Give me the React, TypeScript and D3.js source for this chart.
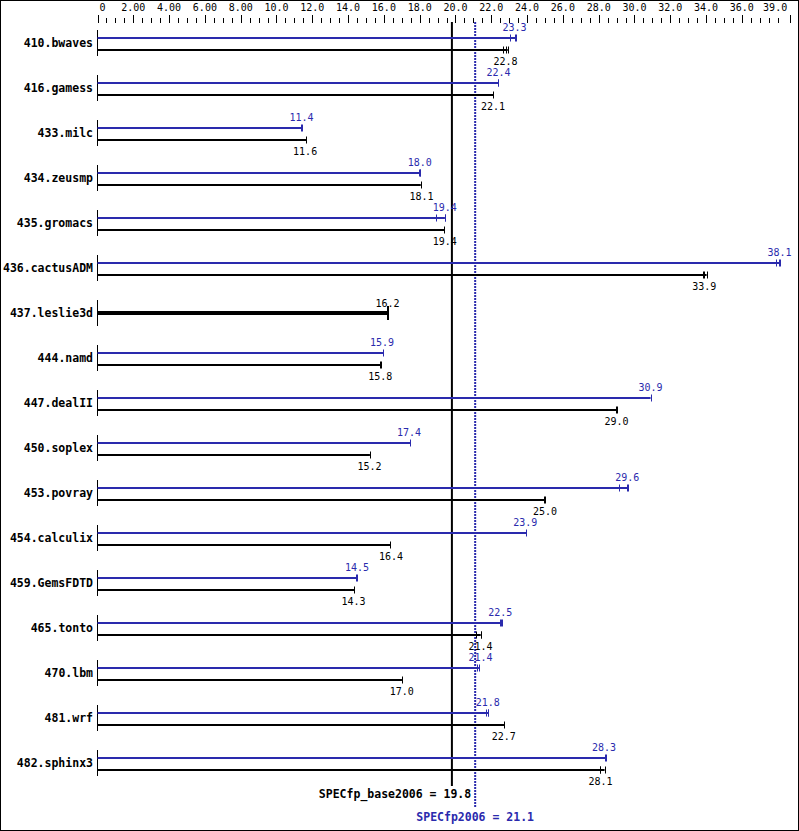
import React from "react";
import * as d3 from "d3";

const benchmarks = [
  "410.bwaves", "416.gamess", "433.milc", "434.zeusmp", "435.gromacs", "436.cactusADM",
  "437.leslie3d", "444.namd", "447.dealII", "450.soplex", "453.povray", "454.calculix",
  "459.GemsFDTD", "465.tonto", "470.lbm", "481.wrf", "482.sphinx3",
];
const peakValues: (number | null)[] = [23.3, 22.4, 11.4, 18.0, 19.4, 38.1, null, 15.9, 30.9, 17.4, 29.6, 23.9, 14.5, 22.5, 21.4, 21.8, 28.3];
const baseValues = [22.8, 22.1, 11.6, 18.1, 19.4, 33.9, 16.2, 15.8, 29.0, 15.2, 25.0, 16.4, 14.3, 21.4, 17.0, 22.7, 28.1];
const peakRuns: number[][] = [
  [23.04, 23.3, 23.38], [22.37, 22.4], [11.38, 11.42], [17.94, 18.0, 18.03], [18.91, 19.41, 19.41],
  [37.9, 38.1, 38.12], [], [15.97], [30.9], [17.46], [29.15, 29.6, 29.64], [23.94], [14.45, 14.48],
  [22.5, 22.55, 22.58], [21.22, 21.31], [21.69, 21.8, 21.82], [28.33, 28.39],
];
const baseRuns: number[][] = [
  [22.67, 22.8, 22.92], [22.1], [11.65], [18.06], [19.38], [33.84, 33.9, 34.03], [16.2, 16.23],
  [15.8, 15.82], [28.97, 29.0], [15.22], [24.96, 25.0], [16.36], [14.33], [21.16, 21.4, 21.41],
  [17.01], [22.71], [28.09, 28.1, 28.33],
];
const specBase = 19.8;
const specPeak = 21.1;
const axisMax = 38.7;
const majorTicks = [0, 2, 4, 6, 8, 10, 12, 14, 16, 18, 20, 22, 24, 26, 28, 30, 32, 34, 36];
const majorLabels = ["0", "2.00", "4.00", "6.00", "8.00", "10.0", "12.0", "14.0", "16.0", "18.0", "20.0", "22.0", "24.0", "26.0", "28.0", "30.0", "32.0", "34.0", "36.0"];
const lastTickLabel = "39.0";

const BLUE = "#2a2aad";
const FONT = "'DejaVu Sans Mono', monospace";

export default function App() {
  const W = 799, H = 831;
  const x = d3.scaleLinear().domain([0, axisMax]).range([97.5, 790.2]);
  const rowY = (i: number) => 43 + 45 * i;
  const minorTicks = d3.range(0.5, 38.01, 0.5).filter((v) => Math.abs(v % 2) > 1e-6 || v === 38);

  return (
    <svg width={W} height={H} style={{ position: "absolute", left: 0, top: 0, background: "#fff" }}>
      <rect x={0.5} y={0.5} width={W - 1} height={H - 1} fill="#fff" stroke="#000" />
      {/* top axis */}
      {majorTicks.map((t, i) => (
        <g key={"mt" + i}>
          <line x1={Math.round(x(t)) + 0.5} x2={Math.round(x(t)) + 0.5} y1={15} y2={23} stroke="#000" />
          <text x={i === 0 ? x(t) + 2 : x(t)} y={11} fontSize={10} fontFamily={FONT} textAnchor={i === 0 ? "start" : "middle"} fill="#000">
            {majorLabels[i]}
          </text>
        </g>
      ))}
      {minorTicks.map((t, i) => (
        <line key={"mn" + i} x1={Math.round(x(t)) + 0.5} x2={Math.round(x(t)) + 0.5} y1={18} y2={23} stroke="#000" />
      ))}
      <line x1={Math.round(x(axisMax)) + 0.5} x2={Math.round(x(axisMax)) + 0.5} y1={15} y2={23} stroke="#000" />
      <text x={x(axisMax) - 3} y={11} fontSize={10} fontFamily={FONT} textAnchor="end">{lastTickLabel}</text>

      {/* reference lines */}
      <line x1={x(specBase)} x2={x(specBase)} y1={22} y2={786} stroke="#000" strokeWidth={2} />
      <line x1={x(specPeak)} x2={x(specPeak)} y1={22} y2={807} stroke={BLUE} strokeWidth={2} strokeDasharray="2,1" />

      {benchmarks.map((name, i) => {
        const c = rowY(i);
        const pv = peakValues[i];
        const single = pv === null;
        const by = single ? c : c + 7;
        const py = c - 5;
        const bMax = d3.max(baseRuns[i]) as number;
        return (
          <g key={name}>
            <text x={93} y={c + 4} fontSize={11.5} fontWeight="bold" fontFamily={FONT} textAnchor="end">{name}</text>
            <line x1={97.5} x2={97.5} y1={c - 13} y2={c + 13} stroke="#000" />
            {!single && (
              <g>
                <line x1={x(0)} x2={x(d3.max(peakRuns[i]) as number)} y1={py} y2={py} stroke={BLUE} strokeWidth={2} />
                {peakRuns[i].map((r, j) => (
                  <line key={j} x1={Math.round(x(r)) + 0.5} x2={Math.round(x(r)) + 0.5} y1={py - 3.5} y2={py + 3.5} stroke={BLUE} />
                ))}
                <text x={x(pv as number)} y={c - 12} fontSize={10} fontFamily={FONT} textAnchor="middle" fill={BLUE}>
                  {(pv as number).toFixed(1)}
                </text>
              </g>
            )}
            <line x1={x(0)} x2={x(bMax)} y1={by} y2={by} stroke="#000" strokeWidth={single ? 4 : 2} />
            {baseRuns[i].map((r, j) => (
              <line key={j} x1={Math.round(x(r)) + 0.5} x2={Math.round(x(r)) + 0.5} y1={by - (single ? 7 : 3.5)} y2={by + (single ? 7 : 3.5)} stroke="#000" />
            ))}
            <text x={x(baseValues[i])} y={single ? c - 6.5 : c + 21.5} fontSize={10} fontFamily={FONT} textAnchor="middle" fill="#000">
              {baseValues[i].toFixed(1)}
            </text>
          </g>
        );
      })}

      <text x={x(specPeak) - 4} y={798} fontSize={11.5} fontWeight="bold" fontFamily={FONT} textAnchor="end">
        {`SPECfp_base2006 = ${specBase.toFixed(1)}`}
      </text>
      <text x={x(specPeak)} y={821} fontSize={11.5} fontWeight="bold" fontFamily={FONT} textAnchor="middle" fill={BLUE}>
        {`SPECfp2006 = ${specPeak.toFixed(1)}`}
      </text>
    </svg>
  );
}
